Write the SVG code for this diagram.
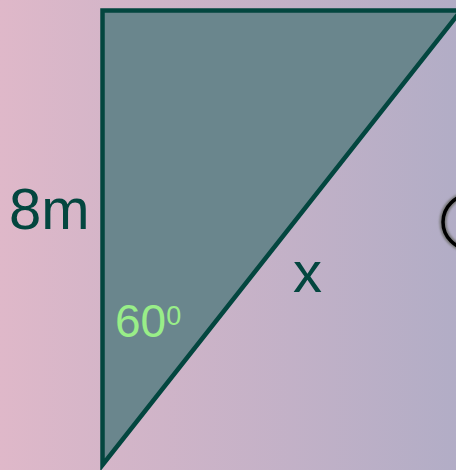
<svg xmlns="http://www.w3.org/2000/svg" width="456" height="470" viewBox="0 0 456 470">
  <defs>
    <linearGradient id="bg" x1="0" y1="0" x2="1" y2="0">
      <stop offset="0" stop-color="#dfb8c9"/>
      <stop offset="1" stop-color="#b2adc6"/>
    </linearGradient>
    <filter id="soft" x="-20%" y="-20%" width="140%" height="140%">
      <feGaussianBlur stdDeviation="1"/>
    </filter>
  </defs>
  <style>
    .lbl { font-family: "Liberation Sans", Arial, sans-serif; fill: #03463f; }
    .ang { font-family: "Liberation Sans", Arial, sans-serif; fill: #99ee88; }
  </style>
  <rect x="0" y="0" width="456" height="470" fill="url(#bg)"/>
  <g id="triangle">
    <polygon points="102.5,10.5 461,10.5 102.5,465" fill="#6a868d" stroke="#03463f" stroke-width="4.5" stroke-linejoin="miter"/>
  </g>
  <g id="shape">
    <circle cx="470" cy="222" r="27" fill="none" stroke="#777" stroke-width="7" filter="url(#soft)"/>
    <circle cx="470" cy="222" r="27" fill="none" stroke="#000" stroke-width="3.5"/>
  </g>
  <g id="labels">
    <text class="lbl" x="9" y="229" font-size="58">8m</text>
    <text class="lbl" x="293" y="292" font-size="58">x</text>
    <text class="ang" x="115" y="337" font-size="46">60<tspan font-size="27" dy="-12">0</tspan></text>
  </g>
</svg>
